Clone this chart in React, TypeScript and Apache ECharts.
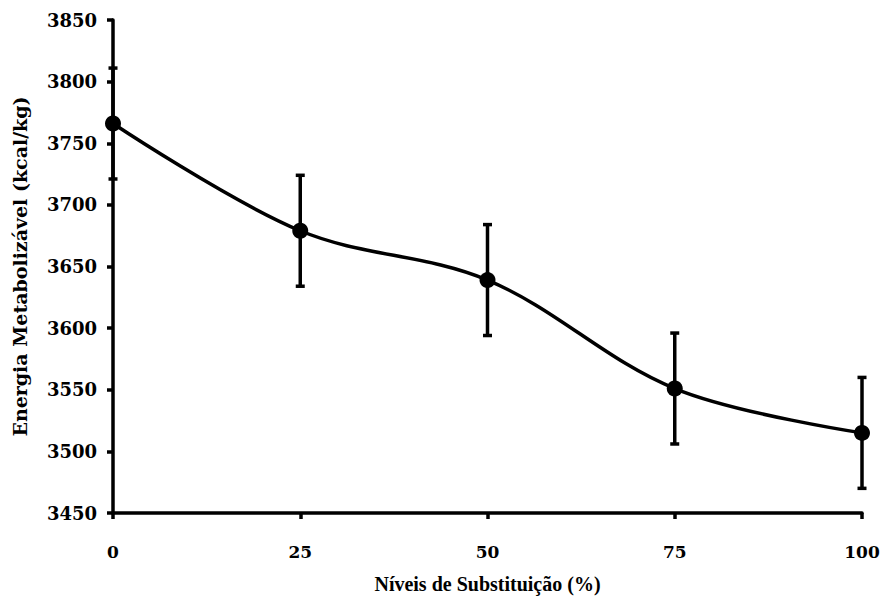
import React, { useEffect, useRef } from "react";
import * as echarts from "echarts";

const levels = [0, 25, 50, 75, 100];
const energy = [3766, 3679, 3639, 3551, 3515];
const errors = [45, 45, 45, 45, 45];
const yTicks = { min: 3450, max: 3850, interval: 50 };

const FONT = "'DejaVu Serif', 'Liberation Serif', serif";
const FONT2 = "'Liberation Serif', 'Times New Roman', serif";

export default function App() {
  const ref = useRef<HTMLDivElement>(null);
  useEffect(() => {
    if (!ref.current) return;
    const chart = echarts.init(ref.current, null, { renderer: "svg" });
    const lineData = levels.map((x, i) => [x, energy[i]]);
    const errData = levels.map((x, i) => [x, energy[i] - errors[i], energy[i] + errors[i]]);
    chart.setOption({
      animation: false,
      backgroundColor: "#fff",
      grid: { left: 113, right: 21, top: 20, bottom: 92 },
      xAxis: {
        type: "value",
        min: 0,
        max: 100,
        interval: 25,
        name: "Níveis de Substituição (%)",
        nameLocation: "middle",
        nameGap: 61,
        nameTextStyle: { fontFamily: FONT2, fontWeight: "bold", fontSize: 20, color: "#000" },
        axisLine: { lineStyle: { color: "#000", width: 3.5 } },
        axisTick: { show: true, length: 6, lineStyle: { color: "#000", width: 3.5 } },
        axisLabel: { fontFamily: FONT, fontWeight: "bold", fontSize: 17, color: "#000", margin: 30 },
        splitLine: { show: false },
      },
      yAxis: {
        type: "value",
        min: yTicks.min,
        max: yTicks.max,
        interval: yTicks.interval,
        name: "Energia Metabolizável (kcal/kg)",
        nameLocation: "middle",
        nameGap: 84,
        nameRotate: 90,
        nameTextStyle: { fontFamily: FONT, fontWeight: "bold", fontSize: 19, color: "#000" },
        axisLine: { show: true, lineStyle: { color: "#000", width: 3.5 } },
        axisTick: { show: true, length: 6, lineStyle: { color: "#000", width: 3.5 } },
        axisLabel: {
          fontFamily: FONT,
          fontWeight: "bold",
          fontSize: 18,
          color: "#000",
          margin: 16,
          formatter: (v: number) => String(v),
        },
        splitLine: { show: false },
      },
      series: [
        {
          type: "line",
          data: lineData,
          smooth: 0.35,
          symbol: "circle",
          symbolSize: 16,
          lineStyle: { color: "#000", width: 3.5 },
          itemStyle: { color: "#000" },
          z: 3,
        },
        {
          type: "custom",
          data: errData,
          z: 4,
          renderItem: (params: any, api: any) => {
            const x = api.value(0);
            const lo = api.coord([x, api.value(1)]);
            const hi = api.coord([x, api.value(2)]);
            const cap = 4.5;
            const style = { stroke: "#000", lineWidth: 3.5 };
            return {
              type: "group",
              children: [
                { type: "line", shape: { x1: lo[0], y1: lo[1], x2: hi[0], y2: hi[1] }, style },
                { type: "line", shape: { x1: hi[0] - cap, y1: hi[1], x2: hi[0] + cap, y2: hi[1] }, style },
                { type: "line", shape: { x1: lo[0] - cap, y1: lo[1], x2: lo[0] + cap, y2: lo[1] }, style },
              ],
            };
          },
        },
      ],
    });
    return () => chart.dispose();
  }, []);
  return (
    <div
      ref={ref}
      style={{ position: "fixed", left: 0, top: 0, width: 883, height: 605 }}
    />
  );
}
